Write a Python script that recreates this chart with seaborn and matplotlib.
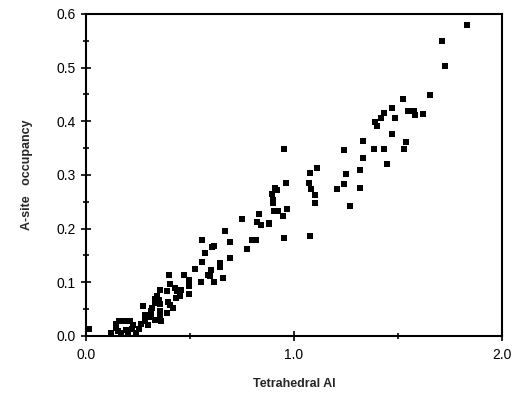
import numpy as np
import pandas as pd
import seaborn as sns
import matplotlib.pyplot as plt
from matplotlib.ticker import MultipleLocator

# values
tet_al = [0.016, 0.123, 0.144, 0.160, 0.176, 0.195, 0.211, 0.147, 0.155, 0.171,
          0.195, 0.227, 0.224, 0.203, 0.243, 0.256, 0.264, 0.275, 0.283, 0.283,
          0.299, 0.307, 0.312, 0.312, 0.331, 0.342, 0.350, 0.355, 0.355, 0.355,
          0.363, 0.390, 0.318, 0.331, 0.331, 0.358, 0.395, 0.406, 0.419, 0.432,
          0.454, 0.496, 0.392, 0.427, 0.438, 0.459, 0.406, 0.400, 0.472, 0.496,
          0.496, 0.552, 0.614, 0.659, 0.587, 0.595, 0.603, 0.523, 0.560, 0.647,
          0.647, 0.574, 0.694, 0.774, 0.560, 0.615, 0.608, 0.694, 0.798, 0.819,
          0.670, 0.751, 0.831, 0.822, 0.843, 0.878, 0.882, 0.946, 0.906, 0.922,
          0.967, 0.899, 0.899, 0.894, 0.910, 0.918, 0.961, 0.951, 0.951, 1.079,
          1.102, 1.102, 1.082, 1.071, 1.079, 1.111, 1.242, 1.209, 1.242, 1.250,
          1.271, 1.317, 1.317, 1.330, 1.330, 1.383, 1.434, 1.445, 1.471, 1.389,
          1.397, 1.418, 1.434, 1.471, 1.487, 1.522, 1.546, 1.575, 1.583, 1.618,
          1.538, 1.530, 1.655, 1.725, 1.710, 1.830]
a_site = [0.013, 0.006, 0.022, 0.027, 0.027, 0.027, 0.027, 0.014, 0.010, 0.005,
          0.011, 0.021, 0.013, 0.005, 0.005, 0.013, 0.022, 0.056, 0.039, 0.027,
          0.021, 0.035, 0.047, 0.041, 0.030, 0.075, 0.066, 0.086, 0.047, 0.039,
          0.027, 0.042, 0.052, 0.069, 0.062, 0.060, 0.064, 0.058, 0.052, 0.070,
          0.074, 0.078, 0.084, 0.089, 0.083, 0.086, 0.097, 0.114, 0.114, 0.105,
          0.093, 0.101, 0.101, 0.108, 0.114, 0.111, 0.122, 0.125, 0.138, 0.136,
          0.128, 0.155, 0.146, 0.162, 0.178, 0.168, 0.165, 0.175, 0.178, 0.178,
          0.195, 0.218, 0.227, 0.212, 0.206, 0.210, 0.209, 0.223, 0.233, 0.233,
          0.236, 0.253, 0.247, 0.265, 0.276, 0.271, 0.285, 0.349, 0.183, 0.187,
          0.262, 0.248, 0.273, 0.285, 0.303, 0.312, 0.346, 0.274, 0.284, 0.301,
          0.242, 0.309, 0.276, 0.363, 0.332, 0.349, 0.349, 0.320, 0.376, 0.399,
          0.391, 0.407, 0.416, 0.424, 0.407, 0.442, 0.419, 0.419, 0.411, 0.414,
          0.361, 0.349, 0.449, 0.503, 0.550, 0.580]

df = pd.DataFrame({'Tetrahedral Al': tet_al, 'A-site occupancy': a_site})

sns.set_style("ticks")
plt.rcParams['font.family'] = ['Liberation Sans', 'DejaVu Sans']

fig = plt.figure(figsize=(5.17, 3.98), dpi=100)
ax = fig.add_axes([0.166, 0.156, 0.805, 0.809])

sns.scatterplot(data=df, x='Tetrahedral Al', y='A-site occupancy', marker='s',
                s=17, color='black', edgecolor='black', linewidth=0, ax=ax)

ax.set_xlim(0, 2.0)
ax.set_ylim(0, 0.6)
ax.xaxis.set_major_locator(MultipleLocator(1.0))
ax.xaxis.set_minor_locator(MultipleLocator(0.5))
ax.yaxis.set_major_locator(MultipleLocator(0.1))
ax.yaxis.set_minor_locator(MultipleLocator(0.05))
ax.xaxis.set_major_formatter(plt.FormatStrFormatter('%.1f'))
ax.yaxis.set_major_formatter(plt.FormatStrFormatter('%.1f'))
ax.tick_params(which='both', direction='inout', width=1.2, colors='black',
               labelsize=10)
ax.tick_params(which='major', length=7)
ax.tick_params(which='minor', length=5)
ax.tick_params(axis='x', pad=5)

for sp in ax.spines.values():
    sp.set_linewidth(1.5)
    sp.set_color('black')

ax.set_xlabel('Tetrahedral Al', fontsize=9, fontweight='bold', labelpad=12)
ax.set_ylabel('A-site   occupancy', fontsize=9, fontweight='bold', labelpad=17)

fig.savefig('out.png', dpi=100)
